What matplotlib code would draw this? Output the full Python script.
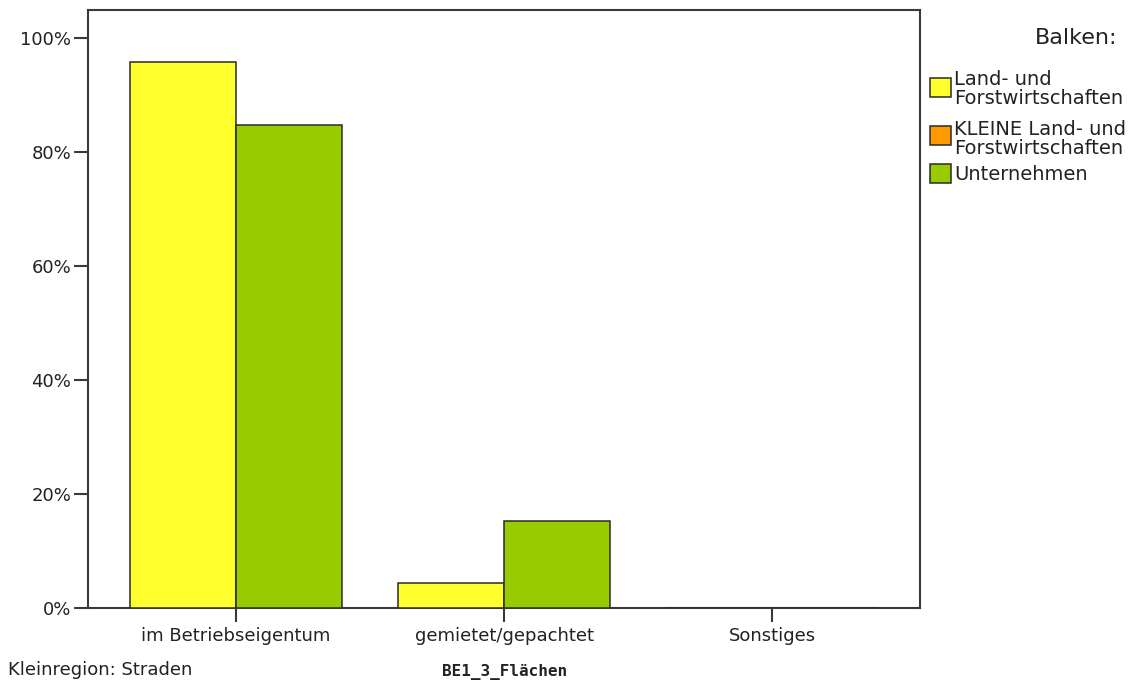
import matplotlib
matplotlib.use("Agg")
import matplotlib.pyplot as plt
from matplotlib.patches import Rectangle
import numpy as np

# ---- data ----
categories = ["im Betriebseigentum", "gemietet/gepachtet", "Sonstiges"]
series_names = ["Land- und\nForstwirtschaften", "KLEINE Land- und\nForstwirtschaften", "Unternehmen"]
series_colors = ["#FFFF2E", "#FF9900", "#99CC00"]
land_forst = [95.7, 4.3, 0.0]
unternehmen = [84.8, 15.2, 0.0]
y_ticks = [0, 20, 40, 60, 80, 100]
y_tick_labels = ["0%", "20%", "40%", "60%", "80%", "100%"]
legend_title = "Balken:"
x_title = "BE1_3_Flächen"
footnote = "Kleinregion: Straden"

W, H = 1135, 687
fig = plt.figure(figsize=(W / 100, H / 100), dpi=100)
fig.patch.set_facecolor("white")

def fx(px):
    return px / W

def fy(py):
    return 1 - py / H

ax = fig.add_axes([fx(88), fy(608), fx(920) - fx(88), fy(10) - fy(608)])

spine_c = "#3a3a3a"
text_c = "#222222"
x = np.arange(len(categories))
w = 0.3955
ax.bar(x - w / 2, land_forst, width=w, color=series_colors[0], edgecolor="#2a2a2a", linewidth=1.1, zorder=3)
ax.bar(x + w / 2, unternehmen, width=w, color=series_colors[2], edgecolor="#2a2a2a", linewidth=1.1, zorder=3)

ax.set_xlim(-0.552, 2.552)
ax.set_ylim(0, 104.9)
ax.set_yticks(y_ticks)
ax.set_yticklabels(y_tick_labels)
ax.set_xticks(x)
ax.set_xticklabels(categories)

for s in ax.spines.values():
    s.set_color(spine_c)
    s.set_linewidth(1.5)
ax.tick_params(axis="y", direction="out", length=10, width=1.5, color=spine_c, pad=2,
               labelsize=13, labelcolor=text_c)
ax.tick_params(axis="x", direction="out", length=10, width=1.5, color=spine_c, pad=4,
               labelsize=13, labelcolor=text_c)

# bottom texts
fig.text(fx(8), fy(670), footnote, fontsize=13, color=text_c, ha="left", va="center",
         family="DejaVu Sans")
fig.text(fx(505), fy(672), x_title, fontsize=11.5, color=text_c, ha="center", va="center",
         family="DejaVu Sans Mono", fontweight="bold")

# legend
fig.text(fx(1117), fy(38), legend_title, fontsize=16, color=text_c, ha="right", va="center")
patch_boxes = [(78, 97), (126, 145), (164, 183)]
text_centers = [89, 139, 174]
for name, col, (top, bot), tc in zip(series_names, series_colors, patch_boxes, text_centers):
    fig.patches.append(Rectangle((fx(930), fy(bot)), fx(951) - fx(930), fy(top) - fy(bot),
                                 transform=fig.transFigure, facecolor=col,
                                 edgecolor="#2a2a2a", linewidth=1.1))
    fig.text(fx(954), fy(tc), name, fontsize=14, color=text_c, ha="left", va="center",
             linespacing=0.98)

fig.savefig("out.png", dpi=100)
